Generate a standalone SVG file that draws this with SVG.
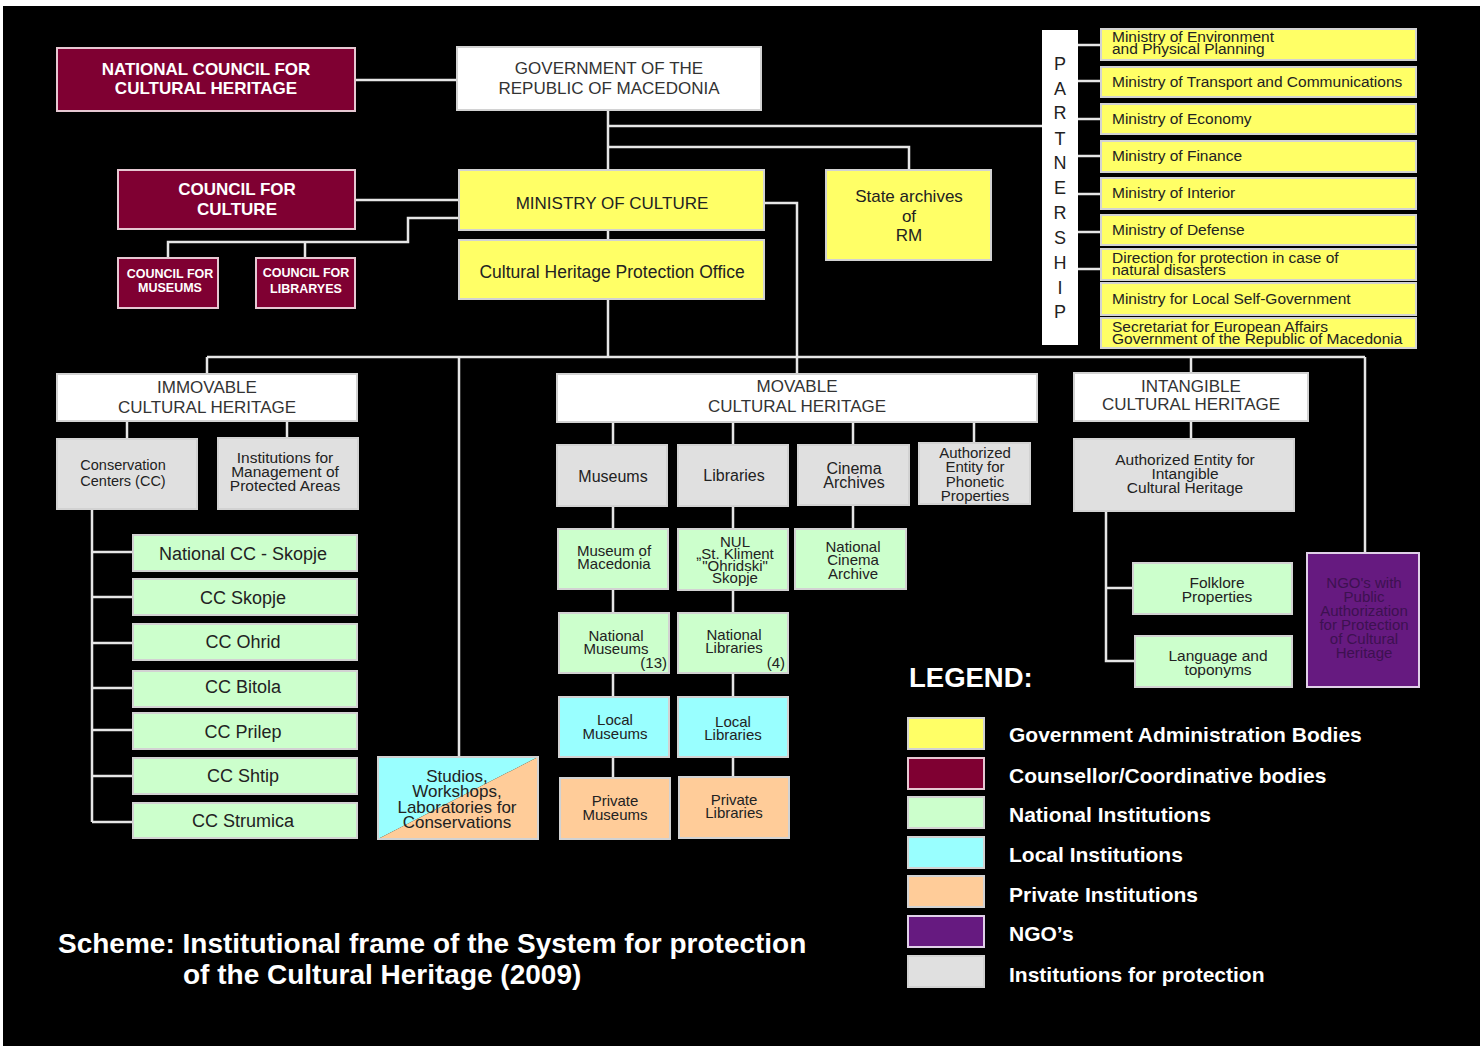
<svg xmlns="http://www.w3.org/2000/svg" width="1483" height="1049" viewBox="0 0 1483 1049">
<style>
.bx{stroke:#d2d2d2;stroke-width:2}
.w{fill:#ffffff}.y{fill:#ffff66}.m{fill:#7f0032;stroke:#e6c8d2}.g{fill:#ccffcc}.c{fill:#99ffff}.o{fill:#ffcc99}.p{fill:#661a80;stroke:#e0d0e8}.gr{fill:#e0e0e0}
text{font-family:"Liberation Sans",Arial,sans-serif;text-anchor:middle;fill:#222}
.tw{fill:#333;font-size:17px}
.tb{fill:#fff;font-weight:bold}
.s15{font-size:15px}.s16{font-size:16px}.s17{font-size:17px}.s18{font-size:18px}
.l{text-anchor:start;font-size:15.5px}
.lg{fill:#fff;font-weight:bold;font-size:21px;text-anchor:start}
#connectors line,#connectors polyline{stroke:#e6e6e6;stroke-width:2.5;fill:none}
</style>
<rect x="0" y="0" width="1483" height="1049" fill="#ffffff"/>
<rect x="3" y="6" width="1477" height="1040" fill="#000000"/>

<g id="connectors">
<line x1="355" y1="80" x2="457" y2="80"/>
<line x1="608" y1="110" x2="608" y2="170"/>
<line x1="608" y1="126" x2="1042" y2="126"/>
<polyline points="608,147 909,147 909,170"/>
<line x1="355" y1="200" x2="459" y2="200"/>
<polyline points="459,218 408,218 408,242 168,242 168,258"/>
<line x1="305" y1="242" x2="305" y2="258"/>
<line x1="608" y1="230" x2="608" y2="240"/>
<polyline points="764,203 797,203 797,375"/>
<line x1="608" y1="299" x2="608" y2="357"/>
<line x1="207" y1="357" x2="1365" y2="357"/>
<line x1="207" y1="357" x2="207" y2="374"/>
<line x1="459" y1="357" x2="459" y2="757"/>
<line x1="1191" y1="357" x2="1191" y2="373"/>
<line x1="1365" y1="357" x2="1365" y2="553"/>
<line x1="1078" y1="45" x2="1101" y2="45"/>
<line x1="1078" y1="81" x2="1101" y2="81"/>
<line x1="1078" y1="119" x2="1101" y2="119"/>
<line x1="1078" y1="156" x2="1101" y2="156"/>
<line x1="1078" y1="194" x2="1101" y2="194"/>
<line x1="1078" y1="232" x2="1101" y2="232"/>
<line x1="1078" y1="269" x2="1101" y2="269"/>
<line x1="127" y1="421" x2="127" y2="439"/>
<line x1="287" y1="421" x2="287" y2="438"/>
<line x1="92" y1="509" x2="92" y2="822"/>
<line x1="92" y1="552" x2="133" y2="552"/>
<line x1="92" y1="597" x2="133" y2="597"/>
<line x1="92" y1="643" x2="133" y2="643"/>
<line x1="92" y1="688" x2="133" y2="688"/>
<line x1="92" y1="730" x2="133" y2="730"/>
<line x1="92" y1="776" x2="133" y2="776"/>
<line x1="92" y1="822" x2="133" y2="822"/>
<line x1="613" y1="422" x2="613" y2="778"/>
<line x1="733" y1="422" x2="733" y2="777"/>
<line x1="853" y1="422" x2="853" y2="529"/>
<line x1="974" y1="422" x2="974" y2="443"/>
<line x1="1191" y1="422" x2="1191" y2="439"/>
<polyline points="1106,511 1106,661 1135,661"/>
<line x1="1106" y1="588" x2="1133" y2="588"/>
</g>

<g id="national-council">
<rect class="bx m" x="57" y="48" width="298" height="63"/>
<text class="tb s17" x="206" y="75">NATIONAL COUNCIL FOR</text>
<text class="tb s17" x="206" y="94">CULTURAL HERITAGE</text>
</g>
<g id="government">
<rect class="bx w" x="457" y="47" width="304" height="63"/>
<text class="tw" x="609" y="74">GOVERNMENT OF THE</text>
<text class="tw" x="609" y="94">REPUBLIC OF MACEDONIA</text>
</g>
<g id="council-culture">
<rect class="bx m" x="118" y="170" width="237" height="59"/>
<text class="tb s17" x="237" y="195">COUNCIL FOR</text>
<text class="tb s17" x="237" y="215">CULTURE</text>
</g>
<g id="council-museums">
<rect class="bx m" x="118" y="258" width="100" height="50"/>
<text class="tb" style="font-size:12.5px" x="170" y="278">COUNCIL FOR</text>
<text class="tb" style="font-size:12.5px" x="170" y="292">MUSEUMS</text>
</g>
<g id="council-libraries">
<rect class="bx m" x="256" y="258" width="99" height="50"/>
<text class="tb" style="font-size:12.5px" x="306" y="277">COUNCIL FOR</text>
<text class="tb" style="font-size:12.5px" x="306" y="293">LIBRARYES</text>
</g>
<g id="ministry">
<rect class="bx y" x="459" y="170" width="305" height="60"/>
<text class="s17" x="612" y="209">MINISTRY OF CULTURE</text>
</g>
<g id="chpo">
<rect class="bx y" x="459" y="240" width="305" height="59"/>
<text style="font-size:17.5px" x="612" y="278">Cultural Heritage Protection Office</text>
</g>
<g id="state-archives">
<rect class="bx y" x="826" y="170" width="165" height="90"/>
<text class="s17" x="909" y="202">State archives</text>
<text class="s17" x="909" y="222">of</text>
<text class="s17" x="909" y="241">RM</text>
</g>

<g id="partnership">
<rect x="1042" y="30" width="36" height="315" fill="#fff"/>
<g style="font-size:18px">
<text x="1060" y="70">P</text><text x="1060" y="95">A</text><text x="1060" y="119">R</text><text x="1060" y="145">T</text><text x="1060" y="169">N</text><text x="1060" y="194">E</text><text x="1060" y="219">R</text><text x="1060" y="244">S</text><text x="1060" y="269">H</text><text x="1060" y="294">I</text><text x="1060" y="318">P</text>
</g>
</g>
<g id="min-environment"><rect class="bx y" x="1101" y="29" width="315" height="31"/><text class="l" x="1112" y="42">Ministry of Environment</text><text class="l" x="1112" y="54">and Physical Planning</text></g>
<g id="min-transport"><rect class="bx y" x="1101" y="67" width="315" height="30"/><text class="l" x="1112" y="87">Ministry of Transport and Communications</text></g>
<g id="min-economy"><rect class="bx y" x="1101" y="104" width="315" height="30"/><text class="l" x="1112" y="124">Ministry of Economy</text></g>
<g id="min-finance"><rect class="bx y" x="1101" y="141" width="315" height="31"/><text class="l" x="1112" y="161">Ministry of Finance</text></g>
<g id="min-interior"><rect class="bx y" x="1101" y="178" width="315" height="31"/><text class="l" x="1112" y="198">Ministry of Interior</text></g>
<g id="min-defense"><rect class="bx y" x="1101" y="215" width="315" height="30"/><text class="l" x="1112" y="235">Ministry of Defense</text></g>
<g id="direction-disasters"><rect class="bx y" x="1101" y="249" width="315" height="31"/><text class="l" x="1112" y="263">Direction for protection in case of</text><text class="l" x="1112" y="275">natural disasters</text></g>
<g id="min-local"><rect class="bx y" x="1101" y="283" width="315" height="32"/><text class="l" x="1112" y="304">Ministry for Local Self-Government</text></g>
<g id="secretariat-eu"><rect class="bx y" x="1101" y="318" width="315" height="30"/><text class="l" x="1112" y="332">Secretariat for European Affairs</text><text class="l" x="1112" y="344">Government of the Republic of Macedonia</text></g>

<g id="immovable">
<rect class="bx w" x="57" y="374" width="300" height="47"/>
<text class="tw" x="207" y="393">IMMOVABLE</text>
<text class="tw" x="207" y="413">CULTURAL HERITAGE</text>
</g>
<g id="conservation-centers">
<rect class="bx gr" x="57" y="439" width="140" height="70"/>
<text style="font-size:14.5px" x="123" y="470">Conservation</text>
<text style="font-size:14.5px" x="123" y="486">Centers (CC)</text>
</g>
<g id="protected-areas">
<rect class="bx gr" x="218" y="438" width="140" height="71"/>
<text style="font-size:15.5px" x="285" y="463">Institutions for</text>
<text style="font-size:15.5px" x="285" y="477">Management of</text>
<text style="font-size:15.5px" x="285" y="491">Protected Areas</text>
</g>
<g id="cc-national"><rect class="bx g" x="133" y="535" width="224" height="36"/><text class="s18" x="243" y="560">National CC - Skopje</text></g>
<g id="cc-skopje"><rect class="bx g" x="133" y="579" width="224" height="36"/><text class="s18" x="243" y="604">CC Skopje</text></g>
<g id="cc-ohrid"><rect class="bx g" x="133" y="624" width="224" height="36"/><text class="s18" x="243" y="648">CC Ohrid</text></g>
<g id="cc-bitola"><rect class="bx g" x="133" y="671" width="224" height="36"/><text class="s18" x="243" y="693">CC Bitola</text></g>
<g id="cc-prilep"><rect class="bx g" x="133" y="713" width="224" height="36"/><text class="s18" x="243" y="738">CC Prilep</text></g>
<g id="cc-shtip"><rect class="bx g" x="133" y="758" width="224" height="36"/><text class="s18" x="243" y="782">CC Shtip</text></g>
<g id="cc-strumica"><rect class="bx g" x="133" y="803" width="224" height="35"/><text class="s18" x="243" y="827">CC Strumica</text></g>
<g id="studios">
<polygon points="378,757 538,757 378,839" fill="#99ffff"/>
<polygon points="538,757 538,839 378,839" fill="#ffcc99"/>
<rect class="bx" x="378" y="757" width="160" height="82" fill="none"/>
<text class="s17" x="457" y="782">Studios,</text>
<text class="s17" x="457" y="797">Workshops,</text>
<text class="s17" x="457" y="813">Laboratories for</text>
<text class="s17" x="457" y="828">Conservations</text>
</g>

<g id="movable">
<rect class="bx w" x="557" y="374" width="480" height="48"/>
<text class="tw" x="797" y="392">MOVABLE</text>
<text class="tw" x="797" y="412">CULTURAL HERITAGE</text>
</g>
<g id="museums"><rect class="bx gr" x="557" y="445" width="110" height="61"/><text class="s16" x="613" y="482">Museums</text></g>
<g id="libraries"><rect class="bx gr" x="678" y="445" width="110" height="61"/><text class="s16" x="734" y="481">Libraries</text></g>
<g id="cinema-archives"><rect class="bx gr" x="798" y="445" width="111" height="60"/><text class="s16" x="854" y="474">Cinema</text><text class="s16" x="854" y="488">Archives</text></g>
<g id="phonetic"><rect class="bx gr" x="919" y="443" width="111" height="61"/><text class="s15" x="975" y="458">Authorized</text><text class="s15" x="975" y="472">Entity for</text><text class="s15" x="975" y="487">Phonetic</text><text class="s15" x="975" y="501">Properties</text></g>
<g id="museum-macedonia"><rect class="bx g" x="558" y="529" width="110" height="60"/><text class="s15" x="614" y="556">Museum of</text><text class="s15" x="614" y="569">Macedonia</text></g>
<g id="nul"><rect class="bx g" x="678" y="529" width="110" height="61"/><text class="s15" x="735" y="547">NUL</text><text class="s15" x="735" y="559">„St. Kliment</text><text class="s15" x="735" y="571">"Ohridski"</text><text class="s15" x="735" y="583">Skopje</text></g>
<g id="national-cinema"><rect class="bx g" x="795" y="529" width="111" height="60"/><text class="s15" x="853" y="552">National</text><text class="s15" x="853" y="565">Cinema</text><text class="s15" x="853" y="579">Archive</text></g>
<g id="national-museums"><rect class="bx g" x="559" y="613" width="110" height="60"/><text class="s15" x="616" y="641">National</text><text class="s15" x="616" y="654">Museums</text><text class="s15" x="667" y="668" style="text-anchor:end">(13)</text></g>
<g id="national-libraries"><rect class="bx g" x="678" y="613" width="110" height="60"/><text class="s15" x="734" y="640">National</text><text class="s15" x="734" y="653">Libraries</text><text class="s15" x="785" y="668" style="text-anchor:end">(4)</text></g>
<g id="local-museums"><rect class="bx c" x="559" y="697" width="110" height="60"/><text class="s15" x="615" y="725">Local</text><text class="s15" x="615" y="739">Museums</text></g>
<g id="local-libraries"><rect class="bx c" x="678" y="697" width="110" height="60"/><text class="s15" x="733" y="727">Local</text><text class="s15" x="733" y="740">Libraries</text></g>
<g id="private-museums"><rect class="bx o" x="560" y="778" width="110" height="61"/><text class="s15" x="615" y="806">Private</text><text class="s15" x="615" y="820">Museums</text></g>
<g id="private-libraries"><rect class="bx o" x="679" y="777" width="110" height="61"/><text class="s15" x="734" y="805">Private</text><text class="s15" x="734" y="818">Libraries</text></g>

<g id="intangible">
<rect class="bx w" x="1074" y="373" width="234" height="48"/>
<text class="tw" x="1191" y="392">INTANGIBLE</text>
<text class="tw" x="1191" y="410">CULTURAL HERITAGE</text>
</g>
<g id="auth-intangible"><rect class="bx gr" x="1074" y="439" width="220" height="72"/><text style="font-size:15.5px" x="1185" y="465">Authorized Entity for</text><text style="font-size:15.5px" x="1185" y="479">Intangible</text><text style="font-size:15.5px" x="1185" y="493">Cultural Heritage</text></g>
<g id="folklore"><rect class="bx g" x="1133" y="563" width="159" height="51"/><text style="font-size:15.5px" x="1217" y="588">Folklore</text><text style="font-size:15.5px" x="1217" y="602">Properties</text></g>
<g id="language"><rect class="bx g" x="1135" y="636" width="157" height="51"/><text style="font-size:15.5px" x="1218" y="661">Language and</text><text style="font-size:15.5px" x="1218" y="675">toponyms</text></g>
<g id="ngo">
<rect class="bx p" x="1307" y="553" width="112" height="134"/>
<g style="font-size:15px;fill:#3d1150">
<text x="1364" y="588" style="fill:#3d1150">NGO's with</text><text x="1364" y="602" style="fill:#3d1150">Public</text><text x="1364" y="616" style="fill:#3d1150">Authorization</text><text x="1364" y="630" style="fill:#3d1150">for Protection</text><text x="1364" y="644" style="fill:#3d1150">of Cultural</text><text x="1364" y="658" style="fill:#3d1150">Heritage</text>
</g>
</g>

<g id="legend">
<text x="909" y="687" style="fill:#fff;font-weight:bold;font-size:27.5px;text-anchor:start">LEGEND:</text>
<rect class="bx y" x="908" y="718" width="76" height="31"/>
<rect class="bx m" x="908" y="758" width="76" height="31"/>
<rect class="bx g" x="908" y="797" width="76" height="31"/>
<rect class="bx c" x="908" y="837" width="76" height="31"/>
<rect class="bx o" x="908" y="876" width="76" height="31"/>
<rect class="bx p" x="908" y="916" width="76" height="31"/>
<rect class="bx gr" x="908" y="956" width="76" height="31"/>
<text class="lg" x="1009" y="742">Government Administration Bodies</text>
<text class="lg" x="1009" y="783">Counsellor/Coordinative bodies</text>
<text class="lg" x="1009" y="822">National Institutions</text>
<text class="lg" x="1009" y="862">Local Institutions</text>
<text class="lg" x="1009" y="902">Private Institutions</text>
<text class="lg" x="1009" y="941">NGO’s</text>
<text class="lg" x="1009" y="982">Institutions for protection</text>
</g>

<g id="title">
<text x="58" y="953" style="fill:#fff;font-weight:bold;font-size:28px;text-anchor:start">Scheme: Institutional frame of the System for protection</text>
<text x="183" y="984" style="fill:#fff;font-weight:bold;font-size:28px;text-anchor:start">of the Cultural Heritage (2009)</text>
</g>
</svg>
